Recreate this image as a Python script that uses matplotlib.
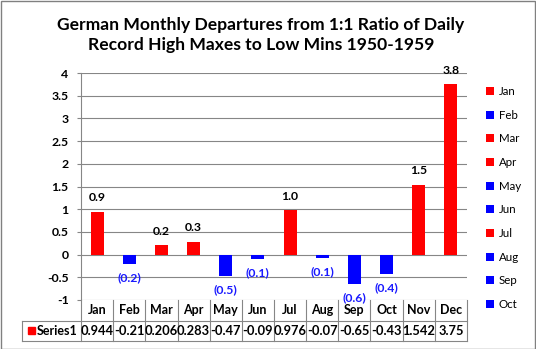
import matplotlib.pyplot as plt
from matplotlib.patches import Rectangle

months = ["Jan", "Feb", "Mar", "Apr", "May", "Jun",
          "Jul", "Aug", "Sep", "Oct", "Nov", "Dec"]
values = [0.944, -0.21, 0.206, 0.283, -0.47, -0.09,
          0.976, -0.07, -0.648, -0.43, 1.542, 3.75]
yticks = [-1, -0.5, 0, 0.5, 1, 1.5, 2, 2.5, 3, 3.5, 4]
ytick_labels = ["-1", "-0.5", "0", "0.5", "1", "1.5", "2", "2.5", "3", "3.5", "4"]
series_name = "Series1"
title = "German Monthly Departures from 1:1 Ratio of Daily\nRecord High Maxes to Low Mins 1950-1959"

plt.rcParams['font.family'] = ['Lato', 'DejaVu Sans']
grid_col = "#868686"
W, H = 536, 349

fig = plt.figure(figsize=(W / 100, H / 100), dpi=100)
ax = fig.add_axes([81 / W, (H - 300) / H, 386 / W, 227 / H])

x = list(range(len(months)))
colors = ["#ff0000" if v >= 0 else "#0000ff" for v in values]
bars = ax.bar(x, values, width=0.4, color=colors, zorder=3)

ax.set_xlim(-0.5, len(months) - 0.5)
ax.set_ylim(-1, 4)
ax.set_yticks(yticks)
ax.set_yticklabels(ytick_labels, fontsize=8.8, fontweight="bold")
ax.tick_params(axis="y", length=3, width=0.8, color=grid_col, pad=6)
ax.set_xticks([])
ax.grid(axis="y", color=grid_col, linewidth=0.8, zorder=0)
for s in ["top", "right", "bottom"]:
    ax.spines[s].set_visible(False)
ax.spines["left"].set_color(grid_col)
ax.spines["left"].set_linewidth(0.8)

# data labels
for xi, v in zip(x, values):
    if v >= 0:
        ax.annotate(f"{v:.1f}", (xi, v), xytext=(0, 10), textcoords="offset points",
                    ha="center", va="center", fontsize=8.8, fontweight="bold",
                    color="black", annotation_clip=False)
    else:
        ax.annotate(f"({abs(v):.1f})", (xi, v), xytext=(0, -10), textcoords="offset points",
                    ha="center", va="center", fontsize=8.8, fontweight="bold",
                    color="#1a1aff", annotation_clip=False, zorder=5)

# data table below the plot
rh = 20.5 / 227
left = (22 - 81) / 386
xt = ax.get_xaxis_transform()
for b in [i - 0.5 for i in range(len(months) + 1)]:
    ax.plot([b, b], [0, -2 * rh], transform=xt, color=grid_col, lw=0.8, clip_on=False)
ax.plot([left, 1], [-rh, -rh], transform=ax.transAxes, color=grid_col, lw=0.8, clip_on=False)
ax.plot([left, 1], [-2 * rh, -2 * rh], transform=ax.transAxes, color=grid_col, lw=0.8, clip_on=False)
ax.plot([left, left], [-rh, -2 * rh], transform=ax.transAxes, color=grid_col, lw=0.8, clip_on=False)
for xi, m, v in zip(x, months, values):
    ax.text(xi, -0.5 * rh, m, transform=xt, ha="center", va="center",
            fontsize=9, fontweight="bold")
    s = f"{v:.{2 if v < 0 else 3}f}".rstrip("0")
    ax.text(xi, -1.5 * rh, s, transform=xt, ha="center", va="center",
            fontsize=9.3, fontweight="bold")
ax.add_patch(Rectangle(((28 - 81) / 386, -1.5 * rh - 3.5 / 227), 7 / 386, 7 / 227,
                       transform=ax.transAxes, color="#ff0000", clip_on=False))
ax.text((37 - 81) / 386, -1.5 * rh, series_name, transform=ax.transAxes,
        ha="left", va="center", fontsize=9, fontweight="bold")

# legend (first ten points, as Excel shows)
fig.legend(bars[:10], months[:10], loc="upper left", bbox_to_anchor=(486 / W, 1 - 86 / H),
           frameon=False, fontsize=8.3, handlelength=0.7, handleheight=0.7,
           handletextpad=0.4, labelspacing=1.1, borderpad=0, borderaxespad=0)

fig.text(261 / W, 1 - 35 / H, title, ha="center", va="center", fontsize=12.6,
         fontweight="bold", linespacing=1.3)

fig.patches.append(Rectangle((0.5 / W, 0.5 / H), 1 - 1.5 / W, 1 - 1.5 / H,
                             transform=fig.transFigure, fill=False,
                             edgecolor="#808080", lw=1))

fig.savefig("out.png", dpi=100)
